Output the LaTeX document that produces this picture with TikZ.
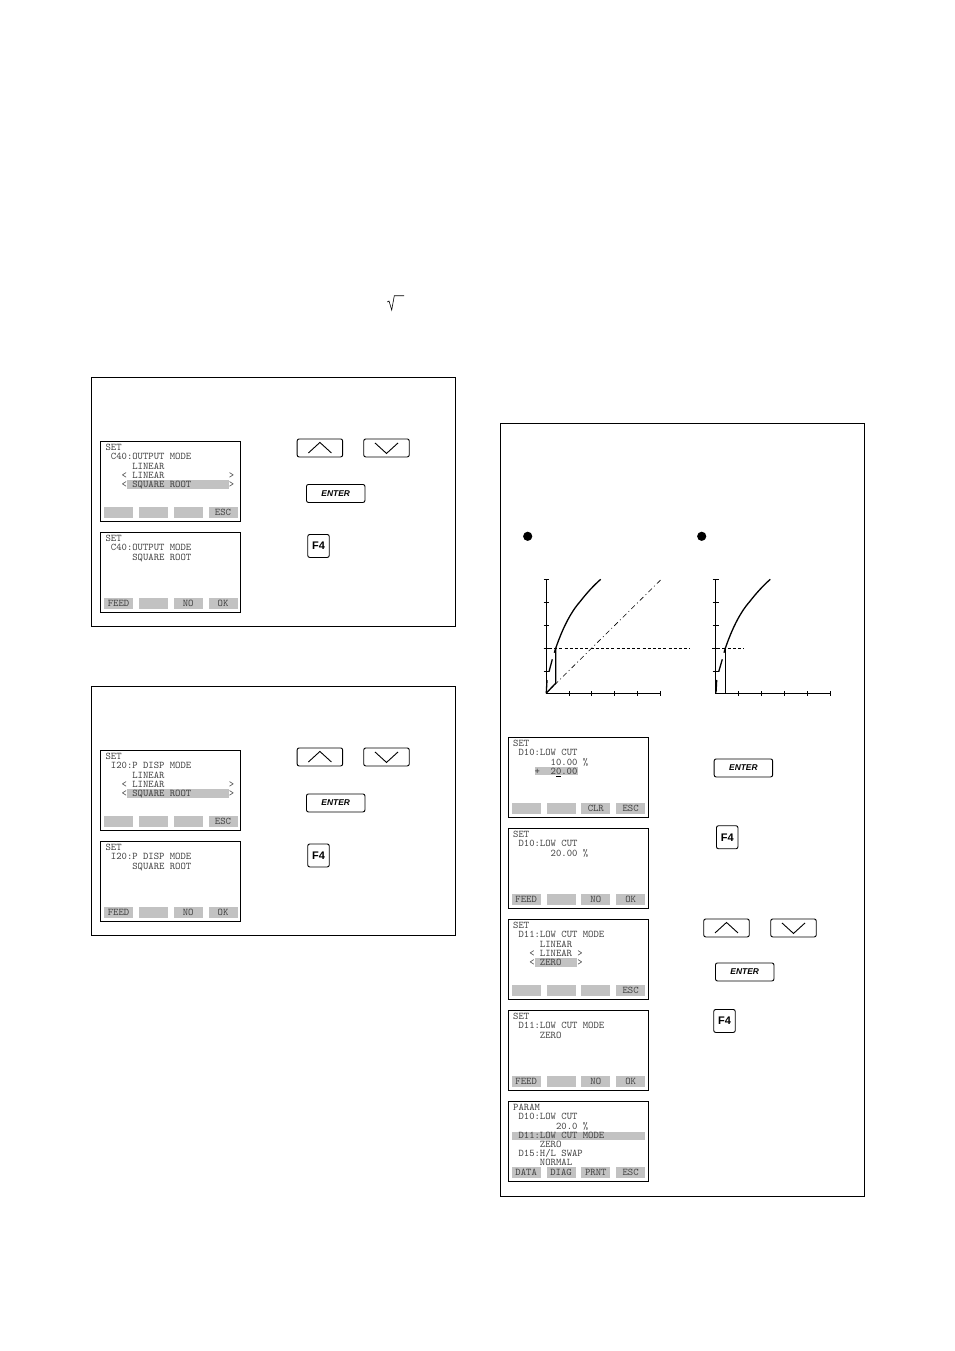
\documentclass[tikz,border=0pt]{standalone}
\usepackage{fontspec}
\newfontfamily\keyfont{Liberation Sans}
\definecolor{lcdgray}{gray}{0.76}
\definecolor{lcdink}{gray}{0.25}
\tikzset{panel/.style = {draw, line width=0.9pt}}
\tikzset{lcdframe/.style = {draw, line width=1pt}}
\tikzset{lcdbar/.style = {fill=lcdgray}}
\tikzset{lcdtext/.style = {anchor=base west, inner sep=0pt, text=lcdink,
                           font=\ttfamily\fontsize{10.2}{10}\selectfont}}
\tikzset{softkey/.style = {anchor=north west, fill=lcdgray, inner sep=0pt, text=lcdink,
                           minimum width=29pt, minimum height=11pt,
                           font=\ttfamily\fontsize{10.2}{10}\selectfont}}
\tikzset{arrowkey/.style = {draw, rounded corners=2pt, anchor=north west, line width=0.9pt,
                            minimum width=45.5pt, minimum height=18pt}}
\tikzset{enterkey/.style = {draw, rounded corners=2pt, anchor=north west, line width=0.9pt,
                            minimum width=58.5pt, minimum height=18pt, inner sep=0pt,
                            font=\keyfont\bfseries\itshape\fontsize{8.4}{9}\selectfont}}
\tikzset{fkey/.style = {draw, rounded corners=2pt, anchor=north west, line width=0.9pt,
                        minimum width=21.5pt, minimum height=23pt, inner sep=0pt,
                        font=\keyfont\bfseries\fontsize{11}{12}\selectfont}}
\tikzset{axisline/.style = {line width=0.8pt}}
\tikzset{curveline/.style = {line width=1.3pt}}
% name, x, y, bars, soft keys, lines
\newcommand{\lcdscreen}[6]{
  \begin{scope}[shift={(#2,#3)}]
    \draw[lcdframe] (0,0) rectangle (140,80.5);
    #4
    \foreach \lab [count=\k] in {#5} {
      \node[softkey] (#1-k\k) at ({3.2+34.8*(\k-1)},65.7) {\lab};
    }
    \foreach \txt [count=\i] in {#6} {
      \node[lcdtext] (#1-l\i) at (4.7,{9.6+9.05*(\i-1)}) {\txt};
    }
  \end{scope}
}
\newcommand{\upkey}[3]{
  \node[arrowkey] (#1) at (#2,#3) {};
  \draw[line width=0.9pt] ([shift={(-11.5,5)}]#1.center) -- ([shift={(0,-5.5)}]#1.center) -- ([shift={(11.5,5)}]#1.center);
}
\newcommand{\downkey}[3]{
  \node[arrowkey] (#1) at (#2,#3) {};
  \draw[line width=0.9pt] ([shift={(-11.5,-5)}]#1.center) -- ([shift={(0,5.5)}]#1.center) -- ([shift={(11.5,-5)}]#1.center);
}
\begin{document}
\begin{tikzpicture}[x=1pt, y=-1pt]
  \useasboundingbox (0,0) rectangle (954,1351);
  % root sign in the text
  \draw[line width=0.6pt] (387.3,302) -- (389,301) -- (391.7,310) -- (394.3,295.7) -- (404,295.7);
  % output mode panel
  \draw[panel] (91.3,377.3) rectangle (455.7,626.3);
  \lcdscreen{ca}{100.7}{441.3}{\fill[lcdbar] (26.3,39) rectangle (128.3,47.3);}{,,,ESC}
    {SET,~C40:OUTPUT~MODE,~~~~~LINEAR,~~~<~LINEAR~~~~~~~~~~~~>,~~~<~SQUARE~ROOT~~~~~~~>}
  \lcdscreen{cb}{100.7}{532.3}{}{FEED,,NO,OK}
    {SET,~C40:OUTPUT~MODE,~~~~~SQUARE~ROOT}
  \upkey{cup}{296.7}{438.5}
  \downkey{cdown}{363.3}{438.5}
  \node[enterkey] (center) at (306,484) {ENTER};
  \node[fkey] (cf) at (307.3,534) {F4};
  % display mode panel
  \draw[panel] (91.3,686.3) rectangle (455.7,935.3);
  \lcdscreen{ia}{100.7}{750.3}{\fill[lcdbar] (26.3,39) rectangle (128.3,47.3);}{,,,ESC}
    {SET,~I20:P~DISP~MODE,~~~~~LINEAR,~~~<~LINEAR~~~~~~~~~~~~>,~~~<~SQUARE~ROOT~~~~~~~>}
  \lcdscreen{ib}{100.7}{841.3}{}{FEED,,NO,OK}
    {SET,~I20:P~DISP~MODE,~~~~~SQUARE~ROOT}
  \upkey{iup}{296.7}{747.5}
  \downkey{idown}{363.3}{747.5}
  \node[enterkey] (ienter) at (306,793.5) {ENTER};
  \node[fkey] (if) at (307.3,843.5) {F4};
  % low cut panel
  \draw[panel] (500.6,423.3) rectangle (864,1196);
  \fill (527.7,536.3) circle (4.6);
  \fill (701.7,536.3) circle (4.6);
  % left graph
  \draw[axisline] (546,579.3) -- (546,693.3) -- (660.7,693.3);
  \foreach \ty in {579.3,602.3,625.3,648.3,671.7} {
    \draw[axisline] (543.7,\ty) -- (549,\ty);
  }
  \foreach \tx in {569.3,591.7,614.7,637.3,660.7} {
    \draw[axisline] (\tx,691) -- (\tx,696);
  }
  \draw[line width=0.6pt, dash pattern=on 5pt off 3pt on 1pt off 3pt] (546,693.3) -- (661.3,579.3);
  \draw[line width=0.7pt, dash pattern=on 3pt off 2.2pt] (543.7,648.3) -- (690,648.3);
  \draw[curveline] (555.7,648.3) .. controls (562,630) and (570,613) .. (580,601.7)
    .. controls (586,594) and (593,586) .. (600.7,579.3);
  \draw[curveline] (555.7,648.3) -- (555.7,683.3) -- (546,693.3);
  \draw[curveline] (549,671.7) -- (552.3,659.3);
  \draw[curveline] (554.3,652.7) -- (555.7,648.3);
  \draw[curveline] (547,680) -- (546.3,692.7);
  % right graph
  \draw[axisline] (715.7,579.3) -- (715.7,693.3) -- (830.3,693.3);
  \foreach \ty in {579.3,602.3,625.3,648.3,671.7} {
    \draw[axisline] (712.7,\ty) -- (719,\ty);
  }
  \foreach \tx in {738.7,761.7,784.7,807.3,830.3} {
    \draw[axisline] (\tx,691) -- (\tx,696);
  }
  \draw[line width=0.7pt, dash pattern=on 3pt off 2.2pt] (712,648.3) -- (743.3,648.3);
  \draw[curveline] (725.3,648.3) .. controls (731.6,630) and (739.6,613) .. (749.6,601.7)
    .. controls (755.6,594) and (762.6,586) .. (770.3,579.3);
  \draw[curveline] (725.3,648.3) -- (725.3,693.3) -- (715.7,693.3);
  \draw[curveline] (718.7,671.7) -- (722.3,659.3);
  \draw[curveline] (724,652.7) -- (725.3,648.3);
  \draw[curveline] (716.7,680) -- (716,692.7);
  % low cut screens
  \lcdscreen{da}{508.3}{737.3}{\fill[lcdbar] (26.7,29.5) rectangle (69.7,38);
    \fill (47.8,38.2) rectangle (52.8,39.3);}{,,CLR,ESC}
    {SET,~D10:LOW~CUT,~~~~~~~10.00~\%,~~~~+~~20.00}
  \lcdscreen{db}{508.3}{828.3}{}{FEED,,NO,OK}
    {SET,~D10:LOW~CUT,~~~~~~~20.00~\%}
  \lcdscreen{dc}{508.3}{919.3}{\fill[lcdbar] (26.7,39) rectangle (68.7,47.3);}{,,,ESC}
    {SET,~D11:LOW~CUT~MODE,~~~~~LINEAR,~~~<~LINEAR~>,~~~<~ZERO~~~>}
  \lcdscreen{dd}{508.3}{1010.3}{}{FEED,,NO,OK}
    {SET,~D11:LOW~CUT~MODE,~~~~~ZERO}
  \lcdscreen{de}{508.3}{1101.3}{\fill[lcdbar] (3.6,30.5) rectangle (136.7,38.8);}{DATA,DIAG,PRNT,ESC}
    {PARAM,~D10:LOW~CUT,~~~~~~~~20.0~\%,~D11:LOW~CUT~MODE,~~~~~ZERO,~D15:H/L~SWAP,~~~~~NORMAL}
  \node[enterkey] (denter) at (713.7,758.5) {ENTER};
  \node[fkey] (df) at (716,825.3) {F4};
  \upkey{dup}{703.3}{918.5}
  \downkey{ddown}{770.3}{918.5}
  \node[enterkey] (dentertwo) at (715,962.5) {ENTER};
  \node[fkey] (dftwo) at (713.3,1009) {F4};
\end{tikzpicture}
\end{document}
